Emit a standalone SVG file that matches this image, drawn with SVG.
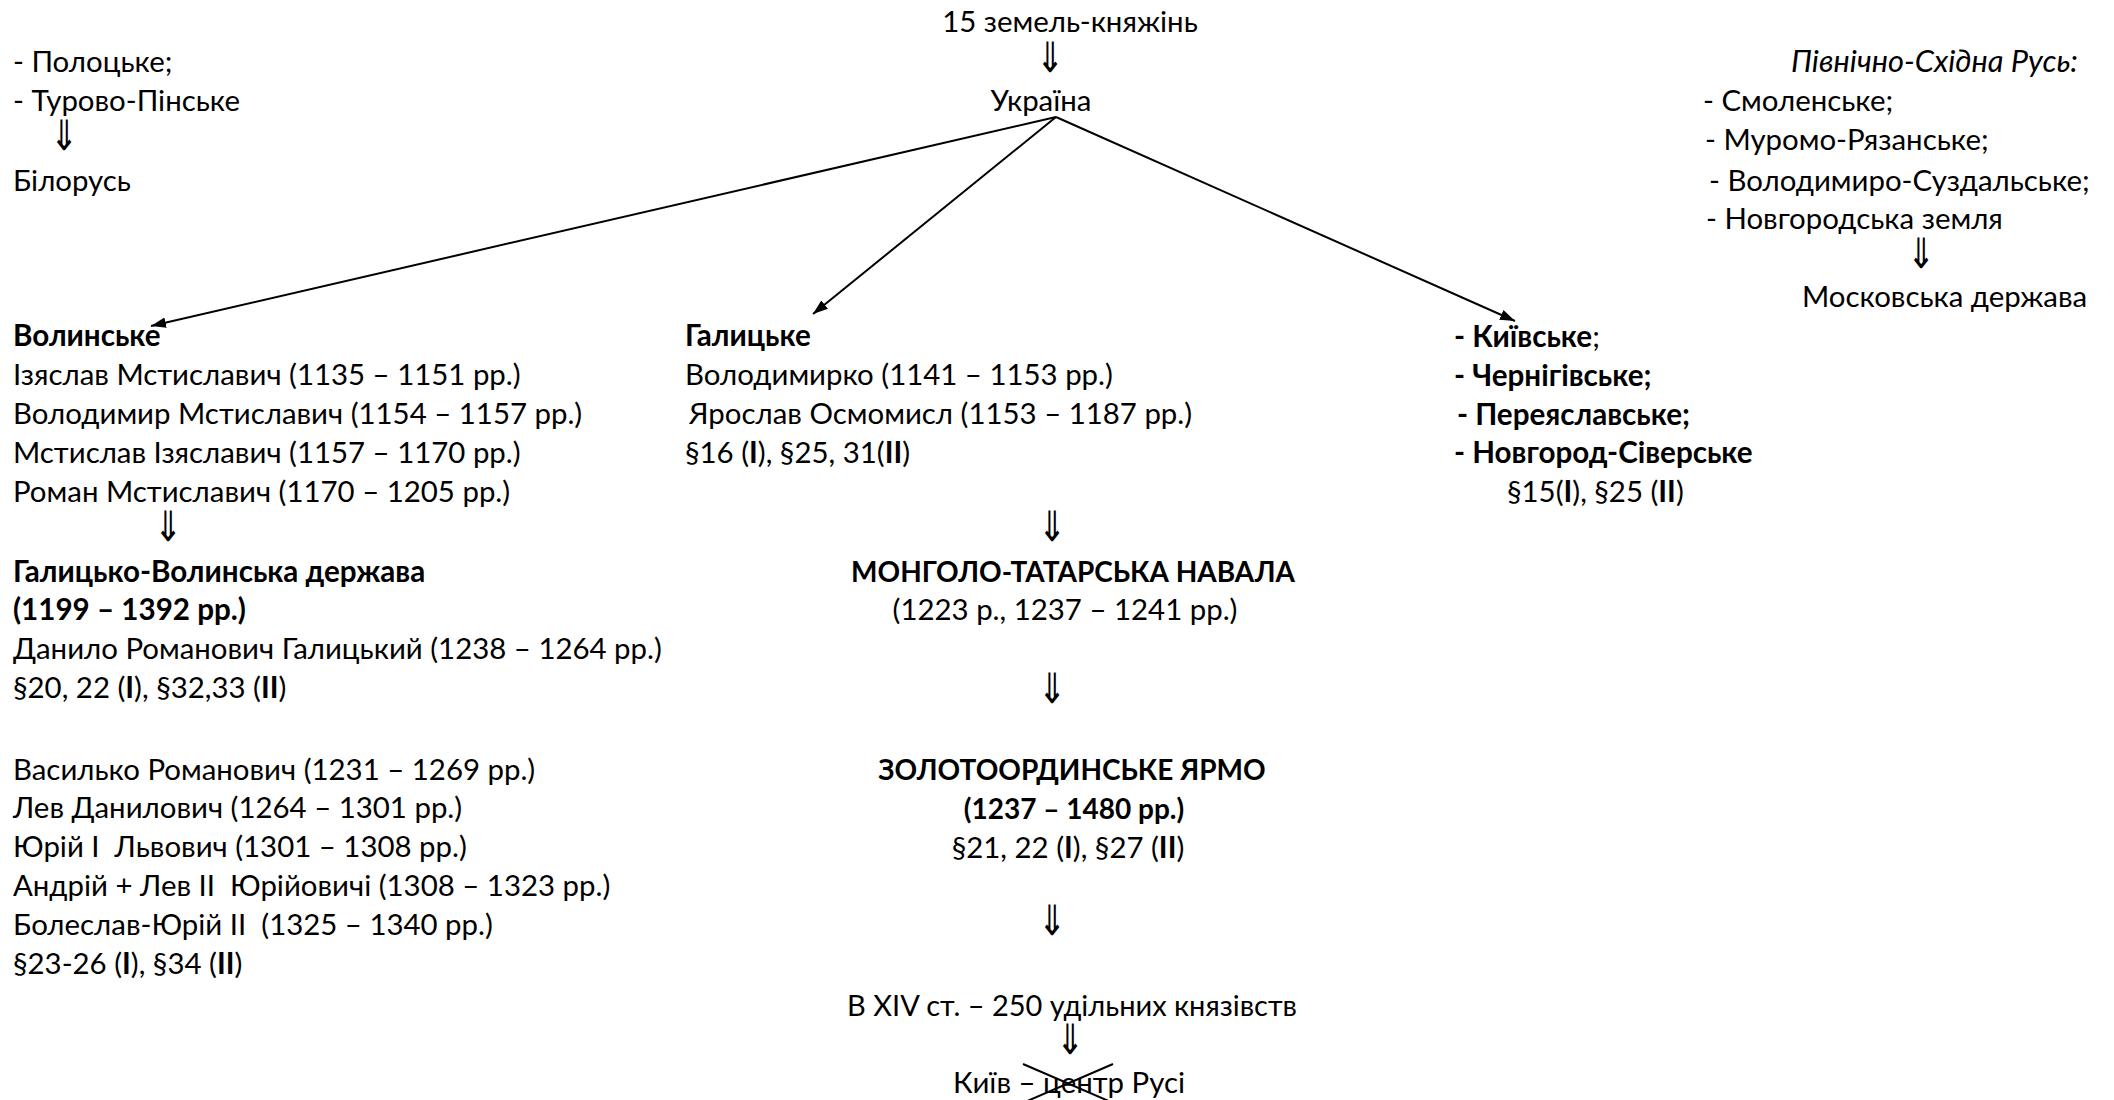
<svg xmlns="http://www.w3.org/2000/svg" width="2114" height="1100" viewBox="0 0 2114 1100">
<style>
text{font-family:Lato,"Open Sans","Noto Sans",sans-serif;font-size:29.4px;fill:#000}
.b{font-weight:bold;font-size:29.6px}
.cap{font-weight:bold;font-size:28px}
.i{font-style:italic;font-size:30.8px}
.c{text-anchor:middle}
.e{text-anchor:end}
.ar{font-family:"DejaVu Sans",sans-serif;font-size:42px;text-anchor:middle}
.ln{stroke:#000;stroke-width:2;fill:none}
</style>
<defs>
<marker id="ah" viewBox="0 0 14 10" refX="14" refY="5" markerWidth="15" markerHeight="11" markerUnits="userSpaceOnUse" orient="auto">
<path d="M0,0 L14,5 L0,10 z" fill="#000"/>
</marker>
</defs>
<rect width="2114" height="1100" fill="#fff"/>
<g id="connectors">
<line class="ln" x1="1056" y1="117" x2="151" y2="326" marker-end="url(#ah)"/>
<line class="ln" x1="1056" y1="117" x2="813" y2="314" marker-end="url(#ah)"/>
<line class="ln" x1="1056" y1="117" x2="1515" y2="321" marker-end="url(#ah)"/>
<line class="ln" x1="1023" y1="1064" x2="1111" y2="1102"/>
<line class="ln" x1="1025" y1="1102" x2="1113" y2="1064"/>
</g>
<g id="top">
<text class="c" x="1070" y="32">15 земель-княжінь</text>
<text class="ar" transform="translate(1050,72) scale(0.8,1)">⇓</text>
<text class="c" x="1041" y="111">Україна</text>
</g>
<g id="belarus">
<text x="13" y="72">- Полоцьке;</text>
<text x="13" y="111">- Турово-Пінське</text>
<text class="ar" transform="translate(64,150) scale(0.8,1)">⇓</text>
<text x="13" y="191">Білорусь</text>
</g>
<g id="northeast">
<text class="i e" x="2078" y="72">Північно-Східна Русь:</text>
<text x="1703" y="111">- Смоленське;</text>
<text x="1705" y="150">- Муромо-Рязанське;</text>
<text x="1709" y="191">- Володимиро-Суздальське;</text>
<text x="1706" y="229">- Новгородська земля</text>
<text class="ar" transform="translate(1921,268) scale(0.8,1)">⇓</text>
<text x="1802" y="307">Московська держава</text>
</g>
<g id="volyn">
<text class="b" x="13" y="346">Волинське</text>
<text x="13" y="385">Ізяслав Мстиславич (1135 – 1151 рр.)</text>
<text x="13" y="424">Володимир Мстиславич (1154 – 1157 рр.)</text>
<text x="13" y="463">Мстислав Ізяславич (1157 – 1170 рр.)</text>
<text x="13" y="502">Роман Мстиславич (1170 – 1205 рр.)</text>
<text class="ar" transform="translate(168,541) scale(0.8,1)">⇓</text>
<text class="b" x="13" y="582">Галицько-Волинська держава</text>
<text class="b" x="13" y="620">(1199 – 1392 рр.)</text>
<text x="13" y="659">Данило Романович Галицький (1238 – 1264 рр.)</text>
<text x="13" y="698">§20, 22 (<tspan class="b">I</tspan>), §32,33 (<tspan class="b">II</tspan>)</text>
<text x="13" y="780">Василько Романович (1231 – 1269 рр.)</text>
<text x="13" y="818">Лев Данилович (1264 – 1301 рр.)</text>
<text x="13" y="857" xml:space="preserve">Юрій I  Львович (1301 – 1308 рр.)</text>
<text x="13" y="896" xml:space="preserve">Андрій + Лев II  Юрійовичі (1308 – 1323 рр.)</text>
<text x="13" y="935" xml:space="preserve">Болеслав-Юрій II  (1325 – 1340 рр.)</text>
<text x="13" y="974">§23-26 (<tspan class="b">I</tspan>), §34 (<tspan class="b">II</tspan>)</text>
</g>
<g id="galych">
<text class="b" x="685" y="346">Галицьке</text>
<text x="685" y="385">Володимирко (1141 – 1153 рр.)</text>
<text x="689" y="424">Ярослав Осмомисл (1153 – 1187 рр.)</text>
<text x="685" y="463">§16 (<tspan class="b">I</tspan>), §25, 31(<tspan class="b">II</tspan>)</text>
</g>
<g id="kyiv">
<text x="1454" y="347"><tspan class="b">- Київське</tspan>;</text>
<text class="b" x="1454" y="386">- Чернігівське;</text>
<text class="b" x="1457" y="425">- Переяславське;</text>
<text class="b" x="1454" y="463">- Новгород-Сіверське</text>
<text x="1507" y="502">§15(<tspan class="b">I</tspan>), §25 (<tspan class="b">II</tspan>)</text>
</g>
<g id="mongol">
<text class="ar" transform="translate(1052,541) scale(0.8,1)">⇓</text>
<text class="cap c" x="1073" y="582">МОНГОЛО-ТАТАРСЬКА НАВАЛА</text>
<text class="c" x="1065" y="620">(1223 р., 1237 – 1241 рр.)</text>
<text class="ar" transform="translate(1052,703) scale(0.8,1)">⇓</text>
</g>
<g id="horde">
<text class="cap c" x="1072" y="780">ЗОЛОТООРДИНСЬКЕ ЯРМО</text>
<text class="cap c" x="1074" y="819">(1237 – 1480 рр.)</text>
<text class="c" x="1068" y="858">§21, 22 (<tspan class="b">I</tspan>), §27 (<tspan class="b">II</tspan>)</text>
<text class="ar" transform="translate(1052,935) scale(0.8,1)">⇓</text>
</g>
<g id="udily">
<text class="c" x="1072" y="1016" style="font-size:29px">В XIV ст. – 250 удільних князівств</text>
<text class="ar" transform="translate(1070,1054) scale(0.8,1)">⇓</text>
<text class="c" x="1069" y="1093">Київ – центр Русі</text>
</g>
</svg>
